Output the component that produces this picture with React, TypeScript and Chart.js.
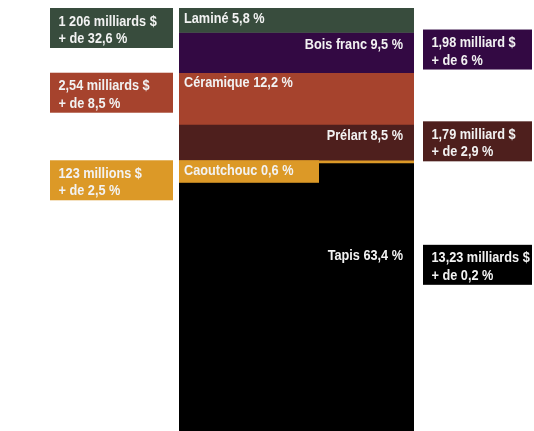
import React, { useEffect, useRef } from "react";
import { Chart, registerables } from "chart.js";

Chart.register(...registerables);

const categories = ["Laminé", "Bois franc", "Céramique", "Prélart", "Caoutchouc", "Tapis"];
const shares = [5.8, 9.5, 12.2, 8.5, 0.6, 63.4];
const shareLabels = ["5,8 %", "9,5 %", "12,2 %", "8,5 %", "0,6 %", "63,4 %"];
const salesLabels = [
  "1 206 milliards $",
  "1,98 milliard $",
  "2,54 milliards $",
  "1,79 milliard $",
  "123 millions $",
  "13,23 milliards $",
];
const growthLabels = ["+ de 32,6 %", "+ de 6 %", "+ de 8,5 %", "+ de 2,9 %", "+ de 2,5 %", "+ de 0,2 %"];
const colors = ["#384c3d", "#330943", "#a6432d", "#4e1f1d", "#dc9927", "#000000"];

const FONT = "bold 15.5px 'Liberation Sans', Arial, sans-serif";
const NARROW = 0.82;
const TEXT = "#f2f2f2";

function drawText(ctx: CanvasRenderingContext2D, text: string, x: number, y: number, align: CanvasTextAlign) {
  ctx.save();
  ctx.translate(x, y);
  ctx.scale(NARROW, 1);
  ctx.textAlign = align;
  ctx.fillText(text, 0, 0);
  ctx.restore();
}

const labelPlugin = {
  id: "segmentLabels",
  afterDatasetsDraw(chart: any) {
    const ctx = chart.ctx as CanvasRenderingContext2D;
    const y = chart.scales.y;
    const area = chart.chartArea;
    const left = area.left;
    const right = area.right;
    ctx.save();
    ctx.font = FONT;
    ctx.textBaseline = "alphabetic";
    let cum = 0;
    categories.forEach((name, i) => {
      const top = y.getPixelForValue(cum);
      cum += shares[i];
      const onRight = i % 2 === 1;
      const isLast = i === categories.length - 1;
      const text = `${name} ${shareLabels[i]}`;
      let baseline = top + (onRight ? 16 : 14.7);
      if (isLast) baseline = top + 97;
      // small segment: label in its own colored tab
      if (i === 4) {
        ctx.fillStyle = colors[i];
        ctx.fillRect(left, top, 140, 22.5);
      }
      ctx.fillStyle = TEXT;
      if (onRight) {
        drawText(ctx, text, right - 11, baseline, "right");
      } else {
        drawText(ctx, text, left + 5, baseline, "left");
      }
      // side boxes
      const boxTop = isLast ? top + 82 : top + (onRight ? -3 : 0);
      const bx = onRight ? right + 9 : 50;
      const bw = onRight ? 109 : 123;
      ctx.fillStyle = colors[i];
      ctx.fillRect(bx, boxTop, bw, 40);
      ctx.fillStyle = TEXT;
      drawText(ctx, salesLabels[i], bx + 8.5, boxTop + 17.5, "left");
      drawText(ctx, growthLabels[i], bx + 8.5, boxTop + 35, "left");
    });
    ctx.restore();
  },
};

export default function App() {
  const ref = useRef<HTMLCanvasElement | null>(null);
  useEffect(() => {
    if (!ref.current) return;
    const chart = new Chart(ref.current, {
      type: "bar",
      data: {
        labels: [""],
        datasets: categories.map((name, i) => ({
          label: name,
          data: [shares[i]],
          backgroundColor: colors[i],
          borderWidth: 0,
          barPercentage: 1,
          categoryPercentage: 1,
        })),
      },
      options: {
        responsive: false,
        animation: false,
        layout: { padding: { left: 179, right: 120, top: 8, bottom: 0 } },
        scales: {
          x: { display: false, stacked: true },
          y: { display: false, stacked: true, min: 0, max: 100, reverse: true },
        },
        plugins: { legend: { display: false }, tooltip: { enabled: false } },
      },
      plugins: [labelPlugin],
    });
    return () => chart.destroy();
  }, []);
  return (
    <div style={{ position: "fixed", left: 0, top: 0, width: 534, height: 431, background: "#fff" }}>
      <canvas ref={ref} width={534} height={431} style={{ display: "block" }} />
    </div>
  );
}
